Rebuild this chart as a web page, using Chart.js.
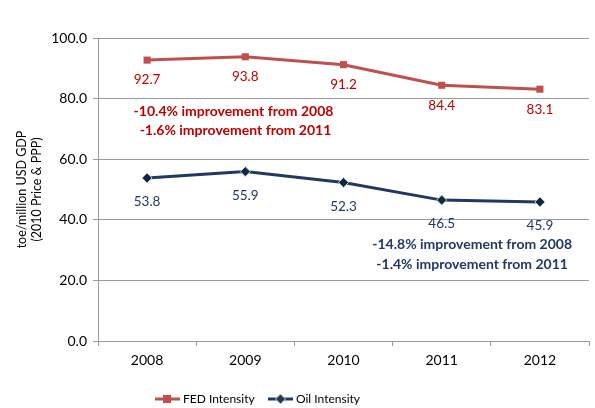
<!DOCTYPE html>
<html>
<head>
<meta charset="utf-8">
<script src="https://cdn.jsdelivr.net/npm/chart.js@4"></script>
<style>
  body { margin: 0; background: #fff; }
  #wrap { width: 595px; height: 408px; }
</style>
</head>
<body>
<div id="wrap"><canvas id="chart" width="595" height="408"></canvas></div>
<script>
// Data
const years = ['2008', '2009', '2010', '2011', '2012'];
const fedIntensity = [92.7, 93.8, 91.2, 84.4, 83.1];
const oilIntensity = [53.8, 55.9, 52.3, 46.5, 45.9];
const fedNotes = ['-10.4% improvement from 2008', '-1.6% improvement from 2011'];
const oilNotes = ['-14.8% improvement from 2008', '-1.4% improvement from 2011'];

const FONT = 'Lato, "Open Sans", sans-serif';
const RED = '#C0504D';
const NAVY = '#1F3864';

// value labels, notes and legend
const extrasPlugin = {
    id: 'extras',
    afterDatasetsDraw(chart) {
        const ctx = chart.ctx;
        const x = chart.scales.x;
        const y = chart.scales.y;
        ctx.save();
        ctx.textAlign = 'center';
        ctx.textBaseline = 'middle';

        // point labels under each marker
        ctx.font = '13.5px ' + FONT;
        const labelColors = ['#C00000', NAVY];
        const offsets = [20, 24];
        chart.data.datasets.forEach((ds, i) => {
            const meta = chart.getDatasetMeta(i);
            ctx.fillStyle = labelColors[i];
            meta.data.forEach((pt, j) => {
                ctx.fillText(ds.data[j].toFixed(1), pt.x, pt.y + offsets[i]);
            });
        });

        // improvement notes
        ctx.font = 'bold 14px ' + FONT;
        ctx.fillStyle = '#C00000';
        ctx.fillText(fedNotes[0], x.getPixelForValue(0.88), y.getPixelForValue(75.6));
        ctx.fillText(fedNotes[1], x.getPixelForValue(0.9), y.getPixelForValue(69.6));
        ctx.fillStyle = NAVY;
        ctx.fillText(oilNotes[0], x.getPixelForValue(3.31), y.getPixelForValue(31.7));
        ctx.fillText(oilNotes[1], x.getPixelForValue(3.31), y.getPixelForValue(25.1));

        // legend
        const ly = 399;
        ctx.font = '12px ' + FONT;
        ctx.textAlign = 'left';
        ctx.lineWidth = 3;
        ctx.strokeStyle = RED;
        ctx.beginPath(); ctx.moveTo(155, ly); ctx.lineTo(180, ly); ctx.stroke();
        ctx.fillStyle = RED;
        ctx.fillRect(163, ly - 4, 8, 8);
        ctx.fillStyle = '#000';
        ctx.fillText('FED Intensity', 183, ly);

        ctx.strokeStyle = NAVY;
        ctx.beginPath(); ctx.moveTo(268, ly); ctx.lineTo(293, ly); ctx.stroke();
        ctx.fillStyle = NAVY;
        ctx.strokeStyle = '#C4D79B';
        ctx.lineWidth = 1;
        ctx.beginPath();
        ctx.moveTo(280.5, ly - 5); ctx.lineTo(285.5, ly); ctx.lineTo(280.5, ly + 5); ctx.lineTo(275.5, ly);
        ctx.closePath(); ctx.fill(); ctx.stroke();
        ctx.fillStyle = '#000';
        ctx.fillText('Oil Intensity', 296, ly);
        ctx.restore();
    }
};

new Chart(document.getElementById('chart'), {
    type: 'line',
    data: {
        labels: years,
        datasets: [
            {
                label: 'FED Intensity',
                data: fedIntensity,
                borderColor: RED,
                backgroundColor: RED,
                borderWidth: 3,
                pointStyle: 'rect',
                pointRadius: 5,
                pointBorderWidth: 0,
                pointBackgroundColor: RED
            },
            {
                label: 'Oil Intensity',
                data: oilIntensity,
                borderColor: NAVY,
                backgroundColor: NAVY,
                borderWidth: 3,
                pointStyle: 'rectRot',
                pointRadius: 5,
                pointBorderWidth: 1,
                pointBorderColor: '#C4D79B',
                pointBackgroundColor: '#0F2550'
            }
        ]
    },
    options: {
        responsive: false,
        animation: false,
        layout: { padding: { top: 38, right: 5, left: 14, bottom: 0 } },
        plugins: {
            legend: { display: false },
            tooltip: { enabled: false }
        },
        scales: {
            x: {
                offset: true,
                afterFit: (scale) => { scale.height = 67; },
                grid: {
                    offset: true,
                    drawOnChartArea: false,
                    tickLength: 5,
                    color: '#9a9a9a'
                },
                border: { color: '#9a9a9a', width: 1 },
                ticks: {
                    color: '#000',
                    font: { family: FONT, size: 14 },
                    padding: 6
                }
            },
            y: {
                min: 0,
                max: 100,
                afterFit: (scale) => { scale.width = 84; },
                ticks: {
                    stepSize: 20,
                    color: '#000',
                    font: { family: FONT, size: 14 },
                    padding: 6,
                    callback: (v) => v.toFixed(1)
                },
                grid: {
                    color: '#9a9a9a',
                    tickLength: 5
                },
                border: { color: '#9a9a9a', width: 1 },
                title: {
                    display: true,
                    text: ['toe/million USD GDP', '(2010 Price & PPP)'],
                    color: '#000',
                    font: { family: FONT, size: 12.5 },
                    padding: { top: 0, bottom: 6 }
                }
            }
        }
    },
    plugins: [extrasPlugin]
});
</script>
</body>
</html>
